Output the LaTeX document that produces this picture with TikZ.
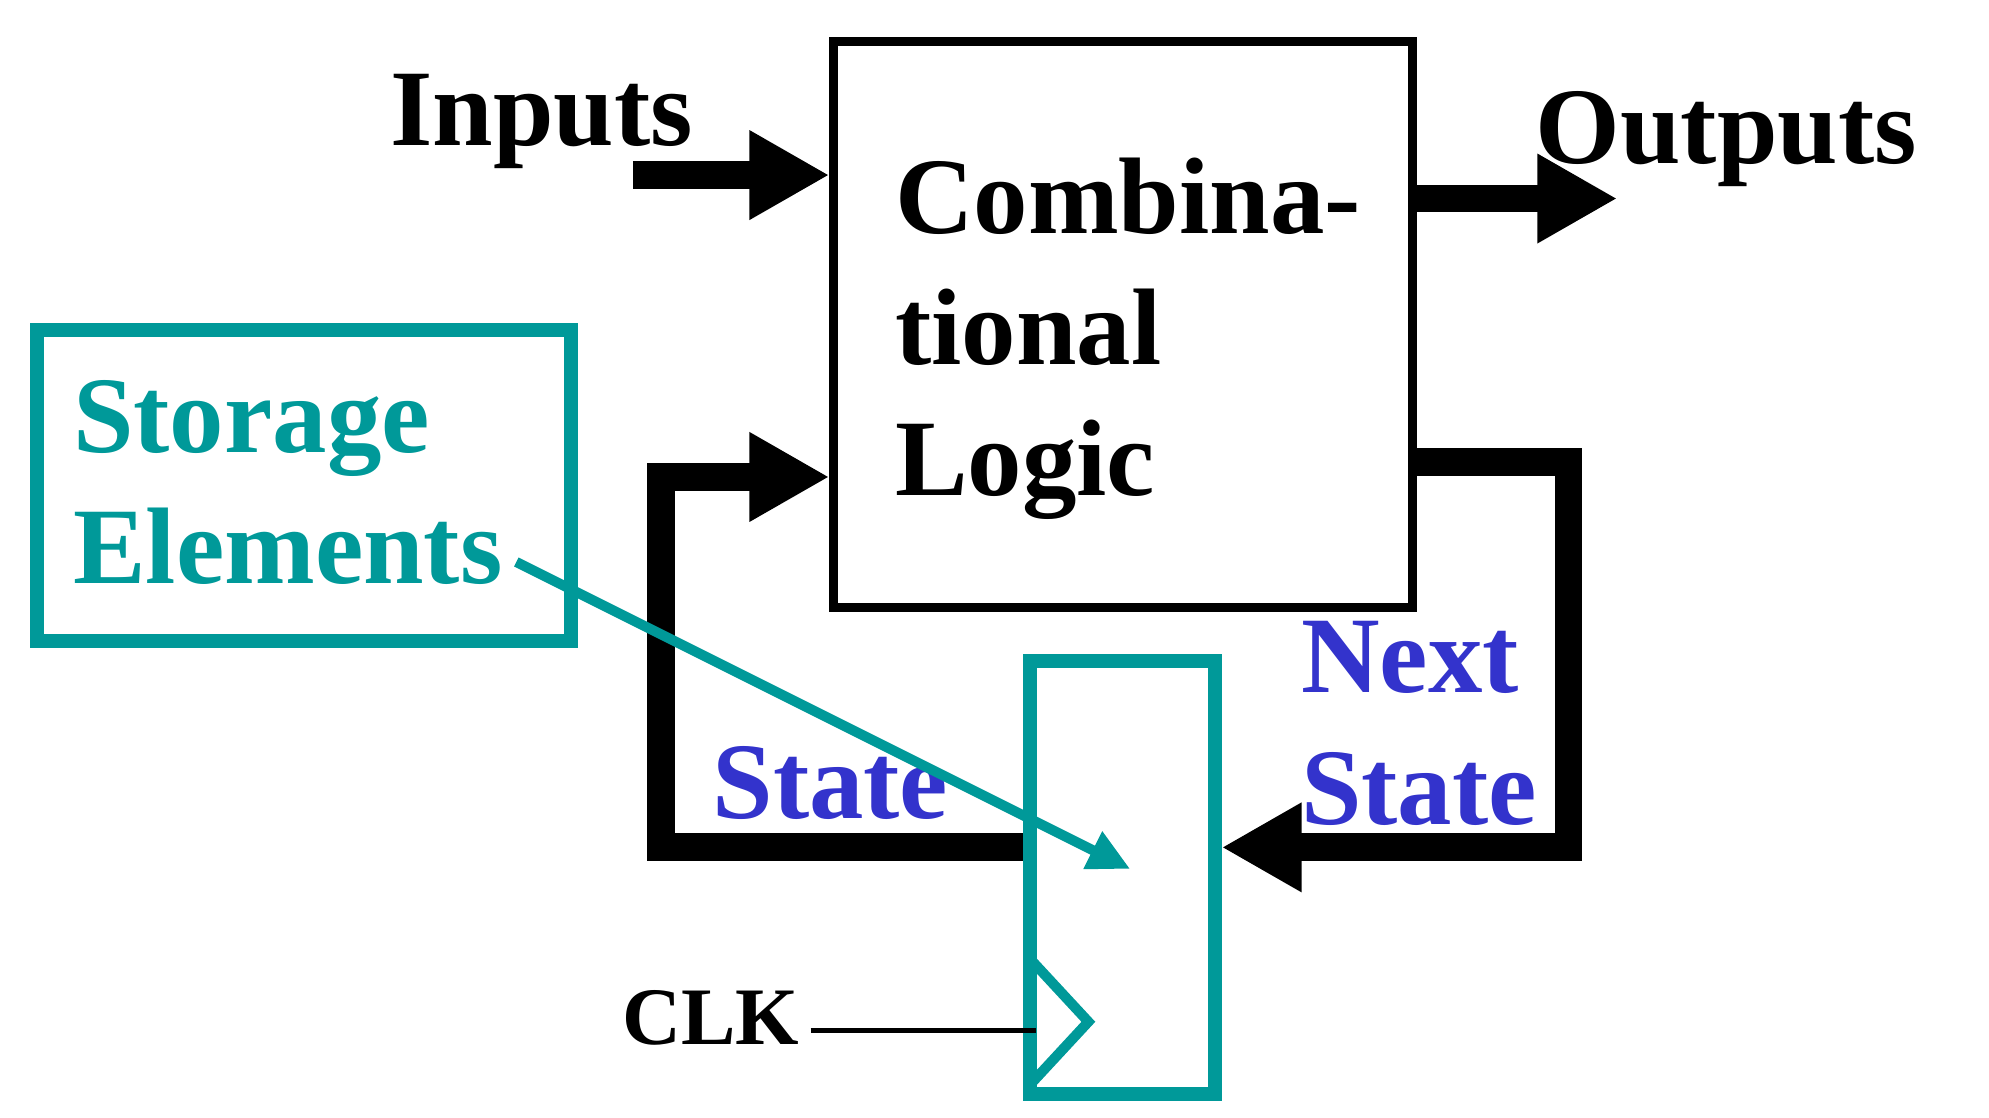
\documentclass[tikz,border=0pt]{standalone}
\usepackage{fontspec}
\setmainfont{Liberation Serif}
\usepackage{xcolor}
\usetikzlibrary{arrows.meta,positioning,calc}
\definecolor{regteal}{RGB}{0,153,153}
\definecolor{stateblue}{RGB}{51,51,204}

\begin{document}
\begin{tikzpicture}[
    x=0.01cm, y=-0.01cm,
    logic/.style={rectangle,draw=black,line width=0.07cm,
                  minimum width=4.56cm,minimum height=4.455cm,inner sep=0pt},
    store/.style={rectangle,draw=regteal,line width=0.11cm,inner sep=0pt},
    bus/.style={black,line width=0.22cm,line join=miter,
                -{Triangle[length=0.63cm,width=0.66cm]}},
    ptr/.style={regteal,line width=0.08cm,-{Triangle[length=0.33cm,width=0.31cm]}},
    lbl/.style={anchor=base west,inner sep=0pt,align=left,
                font=\bfseries\fontsize{24.4}{29.4}\selectfont},
    clklbl/.style={lbl,font=\bfseries\fontsize{18.3}{22}\selectfont},
]
\useasboundingbox (0,0) rectangle (1568,881);

% blocks
\node[logic] (comb) at (885.5,255.75) {};
\node[store,minimum width=4.21cm,minimum height=2.45cm] (storage) at (239.5,382.5) {};
\node[store,minimum width=1.455cm,minimum height=3.41cm] (reg) at (884.75,691.5) {};

% texts (base = last line)
\node[lbl] (combtxt) at (705,390.6) {Combina-\\tional\\Logic};
\node[lbl] (inputs) at (307,114.5) {Inputs};
\node[lbl] (outputs) at (1210,128.8) {Outputs};
\node[lbl,regteal] (storetxt) at (57,459.8) {Storage\\Elements};
\node[lbl,stateblue] (nexttxt) at (1025,649.6) {Next\\State};
\node[lbl,stateblue] (statetxt) at (561,645.6) {State};
\node[clklbl] (clk) at (490,823.6) {CLK};

% inputs and outputs
\coordinate (inA) at (499,138);
\coordinate (outA) at (1275,156.5);
\draw[bus] (inA) -- (inA -| comb.west);
\draw[bus] (comb.east |- outA) -- (outA);

% next state loop (right) and state loop (left)
\coordinate (nsA) at (1236.5,364);
\coordinate (nsB) at (1236.5,668);
\draw[bus] (comb.east |- nsA) -- (nsA) -- (nsB) -- (nsB -| reg.east);
\coordinate (stA) at (521,668);
\coordinate (stB) at (521,376);
\draw[bus] (reg.west |- stA) -- (stA) -- (stB) -- (stB -| comb.west);

% clock input
\draw[regteal,line width=0.08cm] (814,758) -- (858,805.5) -- (814,853);
\coordinate (clkA) at (639,812.5);
\draw[line width=0.036cm,shorten >=-0.1cm] (clkA) -- (clkA -| reg.west);

% pointer from the label to the register
\coordinate (ptrA) at (407,443);
\coordinate (ptrB) at (891,685);
\draw[ptr] (ptrA) -- (ptrB);

\end{tikzpicture}
\end{document}
